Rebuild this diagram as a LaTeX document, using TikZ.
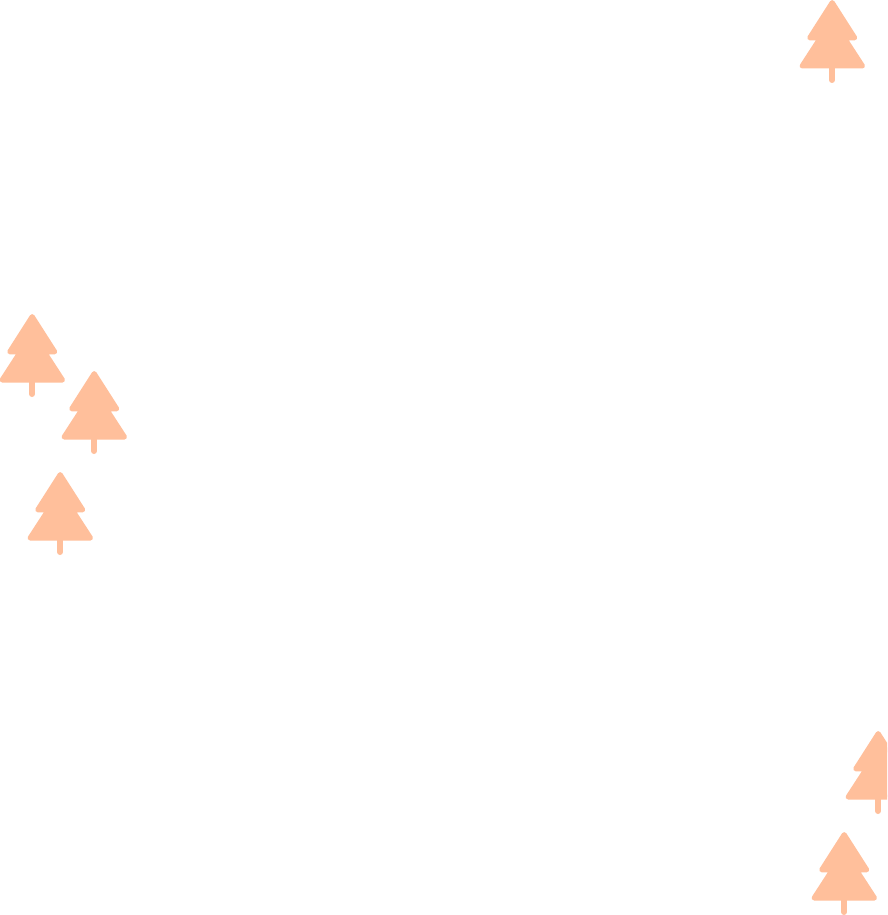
\documentclass[tikz,border=0pt]{standalone}
\definecolor{treecol}{HTML}{FFBF9B}
\tikzset{
  treebody/.style={fill=treecol,draw=treecol,line width=5pt,line join=round},
  treetrunk/.style={draw=treecol,line width=6pt,line cap=round},
  tree/.pic={
    \path[treebody] (0.2,2.6) -- (22.7,37.8) -- (12.2,37.8) -- (30.5,66) -- (-29.9,66) -- (-11.6,37.8) -- (-22.3,37.8) -- cycle;
    \path[treetrunk] (0,66) -- (0,80);
  }
}
\begin{document}
\begin{tikzpicture}[x=1pt,y=-1pt]
\useasboundingbox (0,0) rectangle (887,915);
\clip (0,0) rectangle (887,915);
\fill[white] (0,0) rectangle (887,915);
\pic at (832,0) {tree};
\pic at (32,314) {tree};
\pic at (94,371) {tree};
\pic at (60,472) {tree};
\pic at (878,731) {tree};
\pic at (844,832) {tree};
\end{tikzpicture}
\end{document}
